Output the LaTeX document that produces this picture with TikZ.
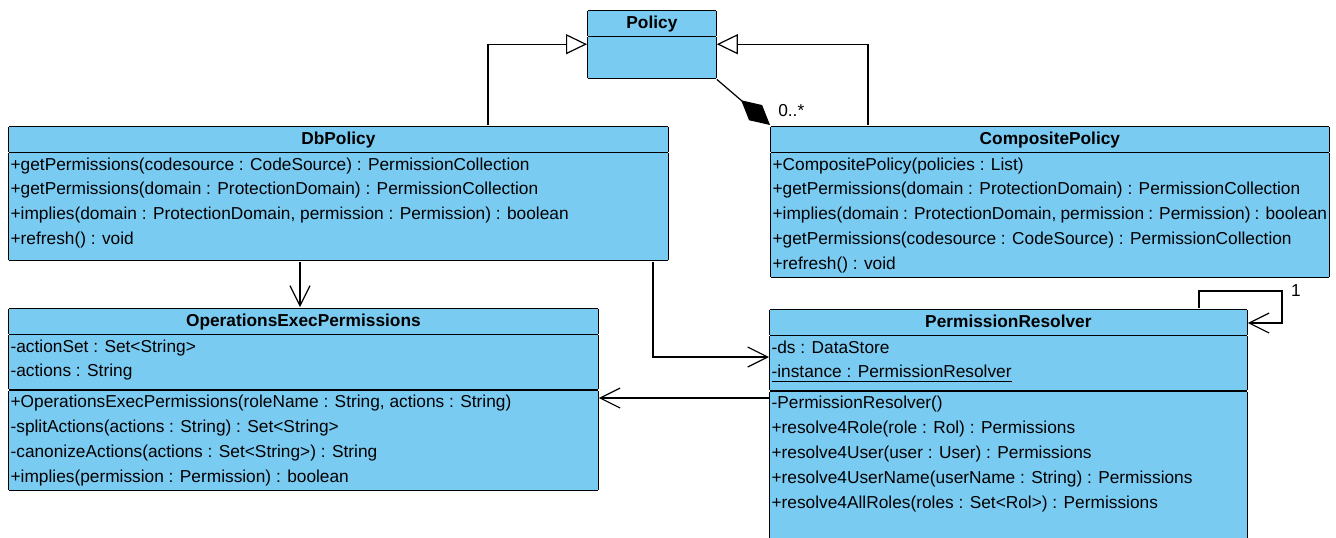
\documentclass[tikz,border=0pt]{standalone}
\usepackage{fontspec}
\setmainfont{Liberation Sans}
\usepackage{xcolor}
\usepackage{tikz}
\usetikzlibrary{arrows.meta}
\definecolor{classblue}{RGB}{122,203,242}
\setlength{\tabcolsep}{1pt}
\setlength{\arrayrulewidth}{0.6pt}
\newcommand{\classhead}[1]{\multicolumn{1}{|c|}{\textbf{#1}}}

\begin{document}
\begin{tikzpicture}[x=0.5pt, y=-0.5pt, font=\fontsize{8.65}{12.4}\selectfont, line width=0.6pt,
  umlclass/.style = {fill=classblue, inner sep=0pt, anchor=north west},
  inherit/.style = {-{Triangle[open, length=10.5pt, width=10pt]}},
  uses/.style = {-{Straight Barb[length=10pt, width=10pt]}},
  whole/.style = {-{Diamond[length=19pt, width=10pt]}}]
\useasboundingbox (0,0) rectangle (1336,537);
\clip (0,0) rectangle (1336,537);

\node[umlclass] (policy) at (587,9) {\begin{tabular}{|p{62.3pt}|}
\hline \classhead{Policy}\\
\hline \\[8pt]
\hline
\end{tabular}};
\node[umlclass] (db) at (8,125) {\begin{tabular}{|p{327.8pt}|}
\hline \classhead{DbPolicy}\\
\hline +getPermissions(codesource : CodeSource) : PermissionCollection\\
+getPermissions(domain : ProtectionDomain) : PermissionCollection\\
+implies(domain : ProtectionDomain, permission : Permission) : boolean\\
+refresh() : void\\[4pt]
\hline
\end{tabular}};
\node[umlclass] (comp) at (770,125) {\begin{tabular}{|p{277.3pt}|}
\hline \classhead{CompositePolicy}\\
\hline +CompositePolicy(policies : List)\\
+getPermissions(domain : ProtectionDomain) : PermissionCollection\\
+implies(domain : ProtectionDomain, permission : Permission) : boolean\\
+getPermissions(codesource : CodeSource) : PermissionCollection\\
+refresh() : void\\
\hline
\end{tabular}};
\node[umlclass] (ops) at (8,307) {\begin{tabular}{|p{292.8pt}|}
\hline \classhead{OperationsExecPermissions}\\
\hline -actionSet : Set<String>\\
-actions : String\\[2.5pt]
\hline +OperationsExecPermissions(roleName : String, actions : String)\\
-splitActions(actions : String) : Set<String>\\
-canonizeActions(actions : Set<String>) : String\\
+implies(permission : Permission) : boolean\\
\hline
\end{tabular}};
\node[umlclass] (res) at (769,308) {\begin{tabular}{|p{236.8pt}|}
\hline \classhead{PermissionResolver}\\
\hline -ds : DataStore\\
\underline{-instance : PermissionResolver}\\[2.5pt]
\hline -PermissionResolver()\\
+resolve4Role(role : Rol) : Permissions\\
+resolve4User(user : User) : Permissions\\
+resolve4UserName(userName : String) : Permissions\\
+resolve4AllRoles(roles : Set<Rol>) : Permissions\\[15pt]
\hline
\end{tabular}};

\coordinate (gl) at (488,43);
\coordinate (gr) at (868,43);
\coordinate (d1) at (300,0);
\coordinate (d2) at (653,357);
\coordinate (d3) at (0,398);
\coordinate (s1) at (1199,291);
\coordinate (s2) at (1282,323);

\draw[inherit] (db.north -| gl) |- (policy.west);
\draw[inherit] (comp.north -| gr) |- (policy.east);
\draw[whole] (policy.south east) -- (comp.north west);
\node (mult) [anchor=west] at (771,111) {0..*};
\draw[uses] (db.south -| d1) -- (ops.north -| d1);
\draw[uses] (db.south -| d2) |- (res.west |- d2);
\draw[uses] (res.west |- d3) -- (ops.east |- d3);
\draw[uses] (res.north -| s1) -- (s1) -| (s2) -- (res.east |- s2);
\node (one) at (1296,291) {1};
\end{tikzpicture}
\end{document}
